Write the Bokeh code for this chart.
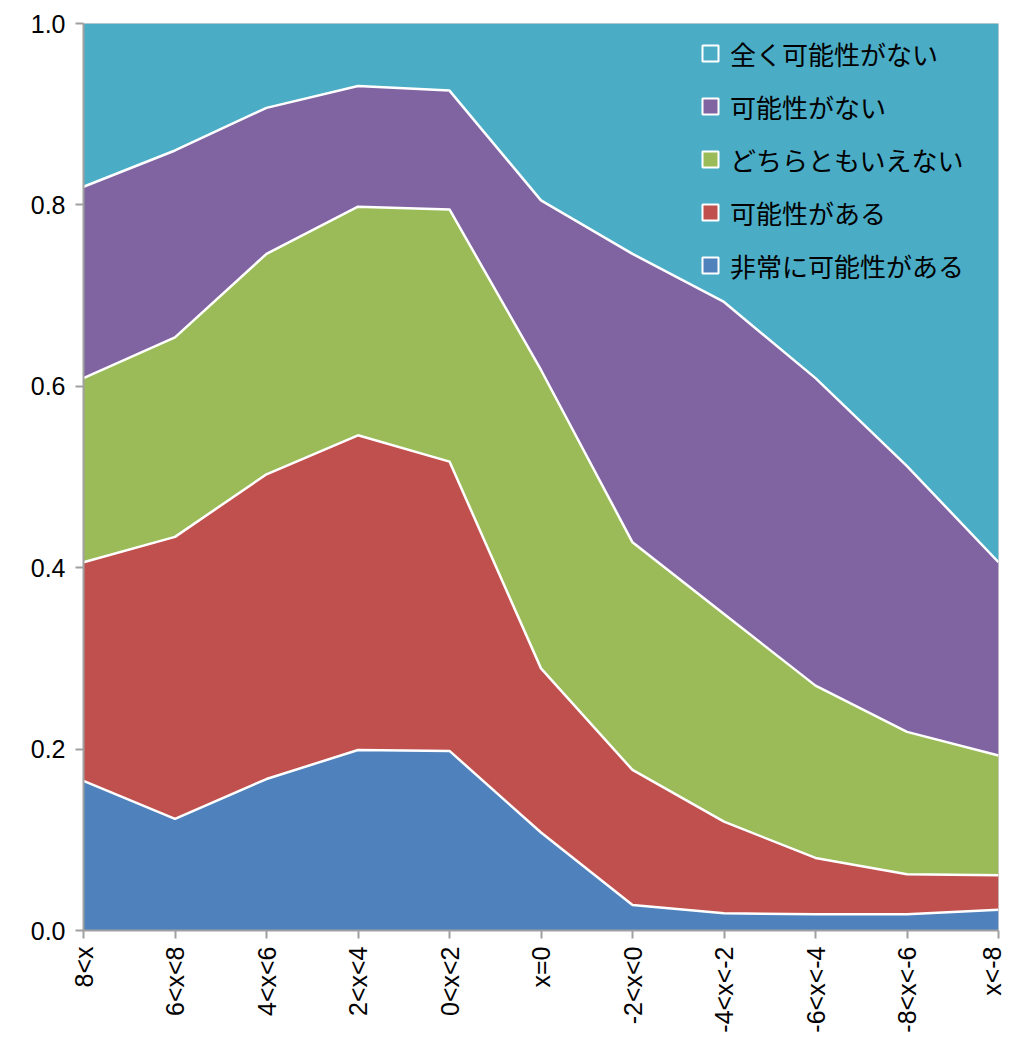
import math
from bokeh.plotting import figure
from bokeh.models import ColumnDataSource, FixedTicker, Range1d, Legend, LegendItem
from bokeh.embed import file_html
from bokeh.resources import INLINE

categories = ["8<x", "6<x<8", "4<x<6", "2<x<4", "0<x<2", "x=0",
              "-2<x<0", "-4<x<-2", "-6<x<-4", "-8<x<-6", "x<-8"]

series_names = ["非常に可能性がある", "可能性がある", "どちらともいえない", "可能性がない", "全く可能性がない"]

very_likely   = [0.165, 0.123, 0.167, 0.199, 0.198, 0.108, 0.028, 0.019, 0.018, 0.018, 0.023]
likely        = [0.241, 0.311, 0.336, 0.347, 0.319, 0.181, 0.149, 0.101, 0.062, 0.044, 0.038]
neutral       = [0.203, 0.220, 0.243, 0.252, 0.278, 0.329, 0.251, 0.229, 0.190, 0.157, 0.132]
unlikely      = [0.211, 0.206, 0.161, 0.133, 0.131, 0.187, 0.318, 0.344, 0.339, 0.293, 0.213]
very_unlikely = [0.180, 0.140, 0.093, 0.069, 0.074, 0.195, 0.254, 0.307, 0.391, 0.488, 0.594]

y_ticks = [0.0, 0.2, 0.4, 0.6, 0.8, 1.0]

colors = ["#4F81BD", "#C0504D", "#9BBB59", "#8064A2", "#4BACC6"]

xs = list(range(len(categories)))
keys = ["s0", "s1", "s2", "s3", "s4"]
data = {"x": xs}
for k, vals in zip(keys, [very_likely, likely, neutral, unlikely, very_unlikely]):
    data[k] = vals
source = ColumnDataSource(data)

p = figure(width=1005, height=1035, output_backend="svg", toolbar_location=None,
           x_range=Range1d(0, len(categories) - 1), y_range=Range1d(0, 1),
           min_border_left=83, min_border_top=23, min_border_right=7, min_border_bottom=104)
p.background_fill_color = "white"
p.border_fill_color = "white"
p.outline_line_color = "#d0d0d0"
p.outline_line_width = 1
p.xgrid.visible = False
p.ygrid.visible = False

p.varea_stack(stackers=keys, x="x", color=colors, source=source)
p.vline_stack(stackers=keys[:-1], x="x", color="white", line_width=2.5, source=source)

# axes
ax = p.xaxis[0]
ax.ticker = FixedTicker(ticks=xs)
ax.major_label_overrides = {i: c for i, c in zip(xs, categories)}
ax.major_label_orientation = math.pi / 2
ax.major_label_text_font = "Liberation Sans"
ax.major_label_text_font_size = "25px"
ax.major_label_text_color = "black"
ax.axis_line_color = "#a0a0a0"
ax.axis_line_width = 2
ax.major_tick_line_color = "#a0a0a0"
ax.major_tick_line_width = 2
ax.major_tick_out = 8
ax.major_tick_in = 0
ax.minor_tick_line_color = None
ax.major_label_standoff = 8

ay = p.yaxis[0]
ay.ticker = FixedTicker(ticks=y_ticks)
ay.major_label_overrides = {t: f"{t:.1f}" for t in y_ticks}
ay.major_label_text_font = "Liberation Sans"
ay.major_label_text_font_size = "25px"
ay.major_label_text_color = "black"
ay.axis_line_color = "#a0a0a0"
ay.axis_line_width = 2
ay.major_tick_line_color = "#a0a0a0"
ay.major_tick_line_width = 2
ay.major_tick_out = 8
ay.major_tick_in = 0
ay.minor_tick_line_color = None
ay.major_label_standoff = 10

# legend with white-bordered squares (dummy renderers, not visible in plot area)
items = []
for name, col in reversed(list(zip(series_names, colors))):
    r = p.scatter(x=[float("nan")], y=[float("nan")], marker="square",
                  fill_color=col, line_color="white", line_width=2)
    items.append(LegendItem(label=name, renderers=[r]))

legend = Legend(items=items, location=(607, 645), margin=0, padding=0,
                glyph_width=40, glyph_height=40, label_height=40, spacing=13,
                label_standoff=0, label_text_font="Noto Sans CJK JP",
                label_text_font_size="26px", label_text_color="black",
                background_fill_alpha=0, border_line_color=None)
p.add_layout(legend, "center")

open("out.html", "w").write(file_html(p, INLINE))
